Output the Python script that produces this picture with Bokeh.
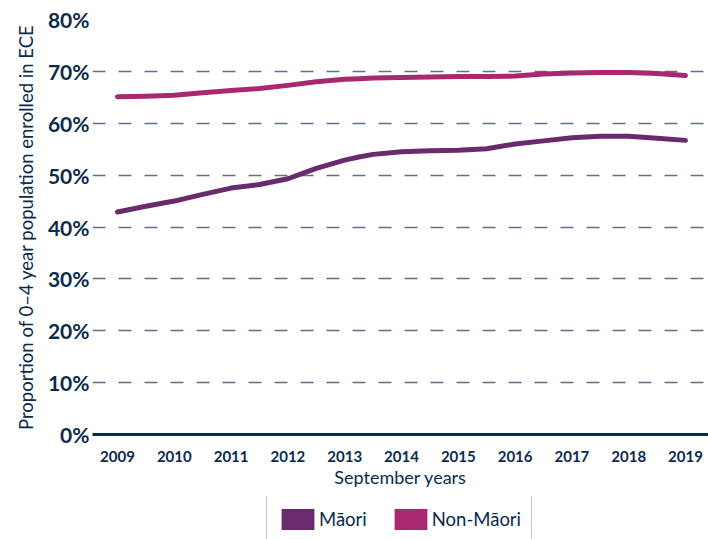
from bokeh.plotting import figure
from bokeh.layouts import column
from bokeh.models import Range1d, FixedTicker, PrintfTickFormatter, Legend, LegendItem, ColumnDataSource
from bokeh.embed import file_html
from bokeh.resources import INLINE

# ---- data ----
period = [2009.0, 2009.5, 2010.0, 2010.5, 2011.0, 2011.5, 2012.0, 2012.5, 2013.0, 2013.25,
          2013.5, 2014.0, 2014.5, 2015.0, 2015.5, 2016.0, 2016.5, 2017.0, 2017.5, 2018.0,
          2018.5, 2019.0]
maori = [42.9, 44.0, 45.0, 46.3, 47.5, 48.2, 49.3, 51.3, 52.9, 53.5,
         54.0, 54.5, 54.7, 54.8, 55.1, 56.0, 56.6, 57.2, 57.5, 57.5,
         57.1, 56.7]
non_maori = [65.1, 65.2, 65.4, 65.9, 66.3, 66.7, 67.3, 68.0, 68.5, 68.6,
             68.7, 68.8, 68.9, 69.0, 69.0, 69.1, 69.5, 69.7, 69.8, 69.8,
             69.6, 69.2]
year_ticks = [2009, 2010, 2011, 2012, 2013, 2014, 2015, 2016, 2017, 2018, 2019]
pct_ticks = [0, 10, 20, 30, 40, 50, 60, 70, 80]
series_names = ["Māori", "Non-Māori"]

NAVY = "#0B2B4C"
GRID = "#5C7091"
C_MAORI = "#6A2A6E"
C_NON = "#A8296F"
FONT = "Lato"

src = ColumnDataSource(dict(x=period, m=maori, n=non_maori))

p = figure(width=708, height=496, output_backend="svg", toolbar_location=None,
           x_range=Range1d(2008.56, 2019.405), y_range=Range1d(0, 80),
           min_border_left=92, min_border_right=0, min_border_top=19, min_border_bottom=62)
p.outline_line_color = None
p.background_fill_color = "white"

p.line("x", "m", source=src, line_color=C_MAORI, line_width=5, line_cap="round", line_join="round")
p.line("x", "n", source=src, line_color=C_NON, line_width=5, line_cap="round", line_join="round")

# grid
p.xgrid.visible = False
p.ygrid.ticker = FixedTicker(ticks=pct_ticks[1:])
p.ygrid.grid_line_color = GRID
p.ygrid.grid_line_width = 1.5
p.ygrid.grid_line_dash = "13 13"

# x axis
xa = p.xaxis[0]
xa.ticker = FixedTicker(ticks=year_ticks)
xa.axis_line_color = NAVY
xa.axis_line_width = 3
xa.major_tick_line_color = None
xa.minor_tick_line_color = None
xa.major_tick_out = 0
xa.major_tick_in = 0
xa.minor_tick_out = 0
xa.major_label_text_font = FONT
xa.major_label_text_font_style = "bold"
xa.major_label_text_font_size = "15px"
xa.major_label_text_color = NAVY
xa.major_label_standoff = 16
xa.axis_label = "September years"
xa.axis_label_text_font = FONT
xa.axis_label_text_font_style = "normal"
xa.axis_label_text_font_size = "18px"
xa.axis_label_text_color = NAVY
xa.axis_label_standoff = 1

# y axis
ya = p.yaxis[0]
ya.ticker = FixedTicker(ticks=pct_ticks)
ya.formatter = PrintfTickFormatter(format="%d%%")
ya.axis_line_color = None
ya.major_tick_line_color = None
ya.minor_tick_line_color = None
ya.major_tick_out = 0
ya.major_tick_in = 0
ya.minor_tick_out = 0
ya.major_label_text_font = FONT
ya.major_label_text_font_style = "bold"
ya.major_label_text_font_size = "21px"
ya.major_label_text_color = NAVY
ya.major_label_standoff = 3
ya.axis_label = "Proportion of 0–4 year population enrolled in ECE"
ya.axis_label_text_font = FONT
ya.axis_label_text_font_style = "normal"
ya.axis_label_text_font_size = "18.5px"
ya.axis_label_text_color = NAVY
ya.axis_label_standoff = 8

# ---- legend strip (separate small figure so the legend is not clipped) ----
lg = figure(width=708, height=43, output_backend="svg", toolbar_location=None,
            x_axis_location=None, y_axis_location=None,
            min_border_left=0, min_border_right=0, min_border_top=0, min_border_bottom=0)
lg.outline_line_color = None
lg.xgrid.visible = False
lg.ygrid.visible = False
# zero-area areas from the series themselves: invisible, but give filled legend swatches
a1 = lg.varea(x="x", y1="m", y2="m", source=src, fill_color=C_MAORI)
a2 = lg.varea(x="x", y1="n", y2="n", source=src, fill_color=C_NON)

legend = Legend(items=[LegendItem(label=series_names[0], renderers=[a1]),
                       LegendItem(label=series_names[1], renderers=[a2])],
                orientation="horizontal", location=(174, -4))
legend.glyph_width = 41
legend.glyph_height = 26
legend.label_text_font = FONT
legend.label_text_font_size = "18.5px"
legend.label_text_color = NAVY
legend.label_standoff = 1
legend.spacing = 23
legend.padding = 10
legend.margin = 0
legend.border_line_color = "#8392A8"
legend.border_line_width = 1.5
legend.background_fill_color = "white"
legend.background_fill_alpha = 1
lg.add_layout(legend, "center")

layout = column(p, lg, spacing=0)
open("out.html", "w").write(file_html(layout, INLINE))
